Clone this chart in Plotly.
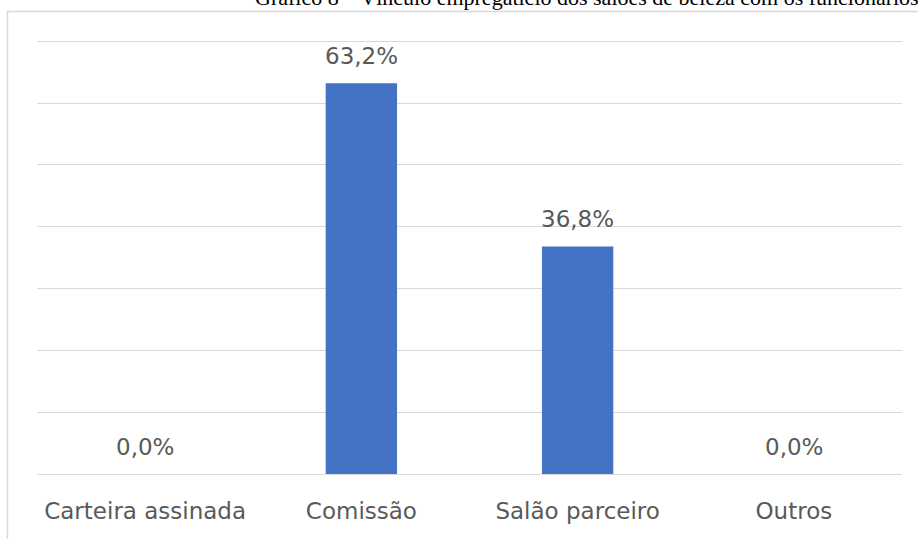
import plotly.graph_objects as go

# Vínculo empregatício dos salões de beleza com os funcionários (%)
categorias = ["Carteira assinada", "Comissão", "Salão parceiro", "Outros"]
percentuais = [0.0, 63.2, 36.8, 0.0]
titulo = "Gráfico 8 – Vínculo empregatício dos salões de beleza com os funcionários"

W, H = 918, 539
Y_MAX = 71  # a little headroom so the 70 % gridline is drawn
M_L, M_R, M_B = 37, 16, 65
M_T = round(41 - (Y_MAX - 70) * (H - M_B - 41) / 70)
ph = H - M_T - M_B
pw = W - M_L - M_R


def py(px_y):
    """pixel row -> paper y"""
    return (H - M_B - px_y) / ph


def px(px_x):
    """pixel column -> paper x"""
    return (px_x - M_L) / pw


label_font = dict(family="DejaVu Sans, Noto Sans, sans-serif", size=23, color="#595959")

fig = go.Figure(
    go.Bar(
        x=categorias,
        y=percentuais,
        marker=dict(color="#4472c4", line=dict(width=0)),
        width=0.33,
        hoverinfo="skip",
    )
)

# value labels above each bar
annotations = [
    dict(
        x=c, y=v, xref="x", yref="y",
        text=f"{v:.1f}%".replace(".", ","),
        showarrow=False, yanchor="bottom", yshift=12,
        font=label_font,
    )
    for c, v in zip(categorias, percentuais)
]

# chart caption, partly above the page edge
annotations.append(
    dict(
        x=px(587), y=py(12), xref="paper", yref="paper",
        text=titulo, showarrow=False, xanchor="center", yanchor="bottom",
        font=dict(family="Liberation Serif, Times New Roman, serif", size=22, color="#000000"),
    )
)

fig.update_layout(
    width=W, height=H,
    margin=dict(l=M_L, r=M_R, t=M_T, b=M_B, pad=0),
    paper_bgcolor="white", plot_bgcolor="white",
    showlegend=False,
    annotations=annotations,
    shapes=[
        dict(
            type="rect", xref="paper", yref="paper",
            x0=px(7.5), x1=px(930), y0=py(11.5), y1=py(560),
            line=dict(color="#d9d9d9", width=1.5), fillcolor="rgba(0,0,0,0)",
            layer="below",
        )
    ],
    xaxis=dict(
        type="category",
        tickfont=label_font,
        showgrid=False, zeroline=False, showline=False,
        ticks="outside", ticklen=16, tickcolor="rgba(0,0,0,0)",
        fixedrange=True,
    ),
    yaxis=dict(
        range=[0, Y_MAX], dtick=10, tick0=0,
        showgrid=True, gridcolor="#d9d9d9", gridwidth=1.3,
        zeroline=True, zerolinecolor="#d9d9d9", zerolinewidth=1.3,
        showline=False, showticklabels=False,
        fixedrange=True,
    ),
)

fig.write_html("out.html", config={"displayModeBar": False})
